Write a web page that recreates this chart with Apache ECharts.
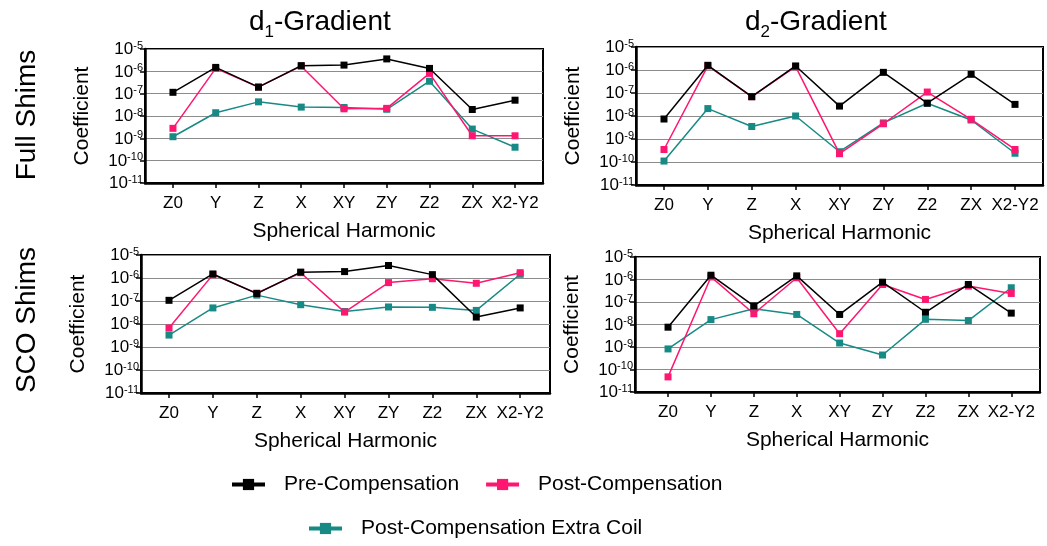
<!DOCTYPE html>
<html>
<head>
<meta charset="utf-8">
<script src="https://cdn.jsdelivr.net/npm/echarts@6/dist/echarts.min.js"></script>
<style>
  html, body { margin: 0; padding: 0; background: #fff; }
  #chart { width: 1047px; height: 546px; }
</style>
</head>
<body>
<div id="chart"></div>
<script>
// Spherical harmonic terms along the x axis
const categories = ['Z0', 'Y', 'Z', 'X', 'XY', 'ZY', 'Z2', 'ZX', 'X2-Y2'];

// Series names
const seriesNames = ['Pre-Compensation', 'Post-Compensation', 'Post-Compensation Extra Coil'];

// d1-Gradient, Full Shims
const d1FullPre   = [1.15e-7, 1.5e-6, 1.95e-7, 1.8e-6, 1.9e-6, 3.6e-6, 1.35e-6, 1.96e-8, 5.1e-8];
const d1FullPost  = [2.8e-9, 1.35e-6, 2.0e-7, 1.7e-6, 2.1e-8, 2.2e-8, 8.1e-7, 1.3e-9, 1.3e-9];
const d1FullExtra = [1.18e-9, 1.4e-8, 4.3e-8, 2.5e-8, 2.4e-8, 2.0e-8, 3.6e-7, 2.6e-9, 4.0e-10];

// d2-Gradient, Full Shims
const d2FullPre   = [7.4e-9, 1.6e-6, 6.9e-8, 1.5e-6, 2.7e-8, 7.9e-7, 3.6e-8, 6.5e-7, 3.2e-8];
const d2FullPost  = [3.5e-10, 1.5e-6, 6.9e-8, 1.4e-6, 2.3e-10, 4.6e-9, 1.1e-7, 7.2e-9, 3.5e-10];
const d2FullExtra = [1.1e-10, 2.1e-8, 3.5e-9, 1.0e-8, 2.8e-10, 5.0e-9, 3.6e-8, 6.7e-9, 2.4e-10];

// d1-Gradient, SCO Shims
const d1ScoPre   = [1.07e-7, 1.5e-6, 2.1e-7, 1.8e-6, 1.9e-6, 3.5e-6, 1.4e-6, 2.0e-8, 5.0e-8];
const d1ScoPost  = [6.7e-9, 1.4e-6, 2.2e-7, 1.7e-6, 3.3e-8, 6.3e-7, 9.3e-7, 5.9e-7, 1.7e-6];
const d1ScoExtra = [3.3e-9, 5.0e-8, 1.8e-7, 6.9e-8, 3.5e-8, 5.5e-8, 5.3e-8, 3.9e-8, 1.45e-6];

// d2-Gradient, SCO Shims
const d2ScoPre   = [7.6e-9, 1.55e-6, 6.7e-8, 1.45e-6, 2.8e-8, 7.6e-7, 3.5e-8, 6.0e-7, 3.2e-8];
const d2ScoPost  = [4.7e-11, 1.3e-6, 3.0e-8, 1.2e-6, 3.9e-9, 6.0e-7, 1.3e-7, 5.1e-7, 2.4e-7];
const d2ScoExtra = [8.2e-10, 1.65e-8, 5.0e-8, 2.8e-8, 1.5e-9, 4.4e-10, 1.7e-8, 1.5e-8, 4.3e-7];

// Y range (log10 decades)
const yMin = 1e-11;
const yMax = 1e-5;

const FONT = '"Liberation Sans", Arial, sans-serif';
const COLORS = ['#000000', '#ff1670', '#178a85'];

const panels = [
  { grid: { left: 145, top: 49, width: 398, height: 134 }, xMin: -0.654, xMax: 8.654,
    data: [d1FullPre, d1FullPost, d1FullExtra] },
  { grid: { left: 636, top: 47, width: 407, height: 138 }, xMin: -0.638, xMax: 8.638,
    data: [d2FullPre, d2FullPost, d2FullExtra] },
  { grid: { left: 141, top: 255, width: 409, height: 138 }, xMin: -0.638, xMax: 8.679,
    data: [d1ScoPre, d1ScoPost, d1ScoExtra] },
  { grid: { left: 635, top: 257, width: 405, height: 135 }, xMin: -0.77, xMax: 8.67,
    data: [d2ScoPre, d2ScoPost, d2ScoExtra] }
];

const catIdx = categories.map((c, i) => i);

const grids = [], xAxes = [], yAxes = [], series = [];
panels.forEach((p, k) => {
  grids.push(Object.assign({ show: true, borderColor: '#000', borderWidth: 2, backgroundColor: 'transparent' }, p.grid));
  xAxes.push({
    type: 'value', gridIndex: k, min: p.xMin, max: p.xMax,
    name: 'Spherical Harmonic', nameLocation: 'middle', nameGap: 38,
    nameTextStyle: { fontFamily: FONT, fontSize: 21, color: '#000' },
    axisLine: { show: true, onZero: false, lineStyle: { color: '#000', width: 2.5 } },
    axisTick: { show: true, customValues: catIdx, length: 5, inside: false, lineStyle: { color: '#000', width: 1.5 } },
    axisLabel: { customValues: catIdx, margin: 12, fontFamily: FONT, fontSize: 17, color: '#000',
      formatter: v => categories[Math.round(v)] },
    splitLine: { show: false }
  });
  yAxes.push({
    type: 'log', logBase: 10, gridIndex: k, min: yMin, max: yMax, splitNumber: 6,
    name: 'Coefficient', nameLocation: 'middle', nameGap: 52, nameRotate: 90,
    nameTextStyle: { fontFamily: FONT, fontSize: 21, color: '#000' },
    axisLine: { show: true, onZero: false, lineStyle: { color: '#000', width: 2.5 } },
    axisTick: { show: true, length: 5, lineStyle: { color: '#000', width: 1.5 } },
    axisLabel: {
      margin: 2, color: '#000',
      formatter: v => '{b|10}{s|' + Math.round(Math.log10(v)) + '}',
      rich: {
        b: { fontFamily: FONT, fontSize: 17, lineHeight: 18, verticalAlign: 'bottom', color: '#000' },
        s: { fontFamily: FONT, fontSize: 11, lineHeight: 11, verticalAlign: 'top', color: '#000' }
      }
    },
    splitLine: { show: true, lineStyle: { color: '#8c8c8c', width: 1 } }
  });
  // extra coil first, then post, then pre so the pre-compensation trace sits on top
  [2, 1, 0].forEach(s => {
    series.push({
      name: seriesNames[s], type: 'line', xAxisIndex: k, yAxisIndex: k,
      data: p.data[s].map((v, i) => [i, v]),
      symbol: 'rect', symbolSize: 7, showSymbol: true,
      lineStyle: { color: COLORS[s], width: 1.5 },
      itemStyle: { color: COLORS[s] },
      animation: false, z: 2 + (2 - s)
    });
  });
});

const legendCommon = {
  orient: 'horizontal', itemWidth: 33, itemHeight: 14, itemGap: 25, padding: 0,
  lineStyle: { width: 4 },
  textStyle: { fontFamily: FONT, fontSize: 21, color: '#000', padding: [0, 0, 0, 14] },
  selectedMode: false
};

const titleRich = {
  m: { fontFamily: FONT, fontSize: 28, lineHeight: 29, verticalAlign: 'top', fill: '#000' },
  u: { fontFamily: FONT, fontSize: 17, lineHeight: 17, padding: [16, 0, 0, 0], verticalAlign: 'top', fill: '#000' }
};

const option = {
  backgroundColor: '#fff',
  animation: false,
  grid: grids,
  xAxis: xAxes,
  yAxis: yAxes,
  series: series,
  legend: [
    Object.assign({ data: [seriesNames[0], seriesNames[1]], left: 230, top: 474 }, legendCommon),
    Object.assign({ data: [seriesNames[2]], left: 307, top: 518 }, legendCommon)
  ],
  graphic: [
    { type: 'text', left: 249, top: 8, style: { text: '{m|d}{u|1}{m|-Gradient}', rich: titleRich } },
    { type: 'text', left: 745, top: 8, style: { text: '{m|d}{u|2}{m|-Gradient}', rich: titleRich } },
    { type: 'text', x: 27, y: 115, rotation: Math.PI / 2, style: {
        text: 'Full Shims', fontFamily: FONT, fontSize: 28, fill: '#000', align: 'center', verticalAlign: 'middle' } },
    { type: 'text', x: 27, y: 320, rotation: Math.PI / 2, style: {
        text: 'SCO Shims', fontFamily: FONT, fontSize: 28, fill: '#000', align: 'center', verticalAlign: 'middle' } }
  ]
};

const chart = echarts.init(document.getElementById('chart'), null, { renderer: 'canvas' });
chart.setOption(option);
</script>
</body>
</html>
